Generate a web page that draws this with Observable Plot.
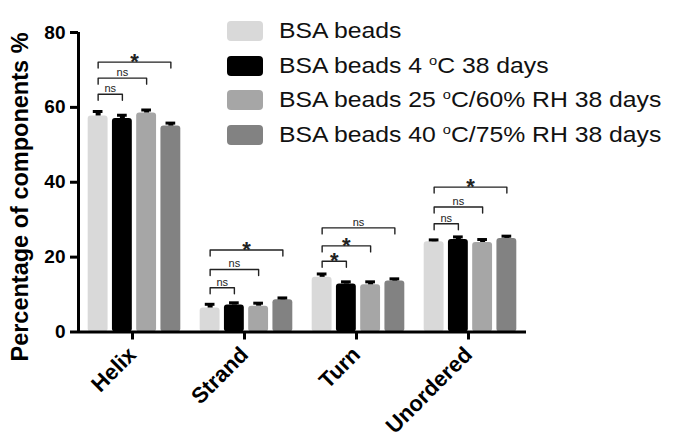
<!DOCTYPE html>
<html><head><meta charset="utf-8">
<script src="https://cdn.jsdelivr.net/npm/d3@7"></script>
<script src="https://cdn.jsdelivr.net/npm/@observablehq/plot@0.6"></script>
<style>
body{margin:0;background:#fff;font-family:"Liberation Sans",Arial,sans-serif;}
#wrap{position:relative;width:673px;height:445px;overflow:hidden;}
#ylabel{position:absolute;left:20px;top:197px;transform:translate(-50%,-50%) rotate(-90deg);white-space:nowrap;font-weight:bold;font-size:23.5px;color:#000;}
#legend{position:absolute;left:227px;top:21px;}
.row{display:flex;align-items:center;height:20px;margin-bottom:14.5px;}
.sw{width:36px;height:20px;border-radius:4px;margin-right:16px;flex:none;}
.lt{font-size:22px;color:#111;white-space:nowrap;line-height:20px;transform:scaleX(1.125);transform-origin:left center;}
.lt sup{font-size:13px;vertical-align:8px;line-height:0;}
</style></head><body>
<div id="wrap"></div>
<script>
const categories = ["Helix", "Strand", "Turn", "Unordered"];
const seriesNames = ["BSA beads", "BSA beads 4 °C 38 days", "BSA beads 25 °C/60% RH 38 days", "BSA beads 40 °C/75% RH 38 days"];
const seriesColors = ["#d9d9d9", "#000000", "#a6a6a6", "#828282"];
const yTicks = [0, 20, 40, 60, 80];

// mean values per category, one per series
const helixValues = [57.7, 57.0, 58.5, 55.0];
const strandValues = [6.4, 7.2, 6.9, 8.6];
const turnValues = [14.6, 12.8, 12.6, 13.6];
const unorderedValues = [24.1, 24.7, 23.9, 25.0];
// error (upper) per category
const helixErrors = [1.2, 0.9, 0.8, 0.8];
const strandErrors = [1.0, 0.6, 0.8, 0.5];
const turnErrors = [0.9, 0.6, 0.8, 0.6];
const unorderedErrors = [0.5, 0.7, 0.8, 0.6];

// significance brackets: from series 0 to target series
const bracketCategory = ["Helix","Helix","Helix","Strand","Strand","Strand","Turn","Turn","Turn","Unordered","Unordered","Unordered"];
const bracketTarget = [1, 2, 3, 1, 2, 3, 1, 2, 3, 1, 2, 3];
const bracketLevel = [63.5, 67.8, 72.1, 11.8, 16.7, 21.9, 18.9, 23.0, 27.8, 28.9, 33.4, 38.7];
const bracketLabel = ["ns","ns","*","ns","ns","*","*","*","ns","ns","ns","*"];

const allValues = [helixValues, strandValues, turnValues, unorderedValues];
const allErrors = [helixErrors, strandErrors, turnErrors, unorderedErrors];

const rows = [];
categories.forEach((c, ci) => allValues[ci].forEach((v, si) =>
  rows.push({cat: c, s: si, name: seriesNames[si], v, e: allErrors[ci][si]})));

const brackets = bracketCategory.map((c, i) => ({id: i, cat: c, t: bracketTarget[i], lvl: bracketLevel[i], label: bracketLabel[i]}));
const drop = 1.6;
const bracketPts = brackets.flatMap(b => [
  {id: b.id, cat: b.cat, x: 0, y: b.lvl - drop},
  {id: b.id, cat: b.cat, x: 0, y: b.lvl},
  {id: b.id, cat: b.cat, x: b.t, y: b.lvl},
  {id: b.id, cat: b.cat, x: b.t, y: b.lvl - drop}
]);

const xDomain = [-0.81, 3.81];
const half = 0.41;
const font = "Liberation Sans, Arial, sans-serif";

const chart = Plot.plot({
  width: 673, height: 445,
  marginLeft: 77, marginRight: 146, marginTop: 32, marginBottom: 113.5,
  style: {fontFamily: font, background: "white", color: "#000"},
  fx: {domain: categories, padding: 0, label: null},
  x: {domain: xDomain, axis: null},
  y: {domain: [yTicks[0], yTicks[yTicks.length - 1]], axis: null},
  color: {domain: seriesNames, range: seriesColors},
  marks: [
    Plot.rectY(rows, {fx: "cat", x1: d => d.s - half, x2: d => d.s + half, y1: 0, y2: "v", fill: "name", rx: 3}),
    Plot.ruleX(rows, {fx: "cat", x: "s", y1: "v", y2: d => d.v + d.e, stroke: "#000", strokeWidth: 5}),
    Plot.ruleY(rows, {fx: "cat", y: d => d.v + d.e, x1: d => d.s - 0.2, x2: d => d.s + 0.2, stroke: "#000", strokeWidth: 3}),
    Plot.line(bracketPts, {fx: "cat", x: "x", y: "y", z: "id", stroke: "#222", strokeWidth: 1.4}),
    Plot.text(brackets.filter(b => b.label === "ns"), {fx: "cat", x: d => d.t / 2, y: "lvl", text: "label", lineAnchor: "bottom", dy: -2, fontSize: 11, fill: "#222"}),
    Plot.text(brackets.filter(b => b.label === "*"), {fx: "cat", x: d => d.t / 2, y: "lvl", text: "label", lineAnchor: "bottom", dy: 7, fontSize: 22, fontWeight: "bold", fill: "#222"}),
    Plot.ruleY([0], {stroke: "#000", strokeWidth: 3}),
    Plot.ruleX([{cat: categories[0]}], {fx: "cat", x: () => xDomain[0], y1: yTicks[0], y2: yTicks[yTicks.length - 1], stroke: "#000", strokeWidth: 3}),
    Plot.axisY({ticks: yTicks, tickSize: 8, tickPadding: 5, fontSize: 19, fontWeight: "bold", strokeWidth: 3, label: null, tickFormat: d => String(d)}),
    Plot.axisFx({anchor: "bottom", tickSize: 8, tickPadding: 11, dx: -2, tickRotate: -45, fontSize: 22, fontWeight: "bold", strokeWidth: 3, label: null})
  ]
});

const wrap = document.getElementById("wrap");
wrap.appendChild(chart);

const yl = document.createElement("div");
yl.id = "ylabel";
yl.textContent = "Percentage of components %";
wrap.appendChild(yl);

const legend = document.createElement("div");
legend.id = "legend";
seriesNames.forEach((n, i) => {
  const row = document.createElement("div");
  row.className = "row";
  const sw = document.createElement("div");
  sw.className = "sw";
  sw.style.background = seriesColors[i];
  const lt = document.createElement("div");
  lt.className = "lt";
  const parts = n.split("°");
  lt.appendChild(document.createTextNode(parts[0]));
  if (parts.length > 1) {
    const sup = document.createElement("sup");
    sup.textContent = "o";
    lt.appendChild(sup);
    lt.appendChild(document.createTextNode(parts[1]));
  }
  row.appendChild(sw);
  row.appendChild(lt);
  legend.appendChild(row);
});
wrap.appendChild(legend);
</script>
</body></html>
